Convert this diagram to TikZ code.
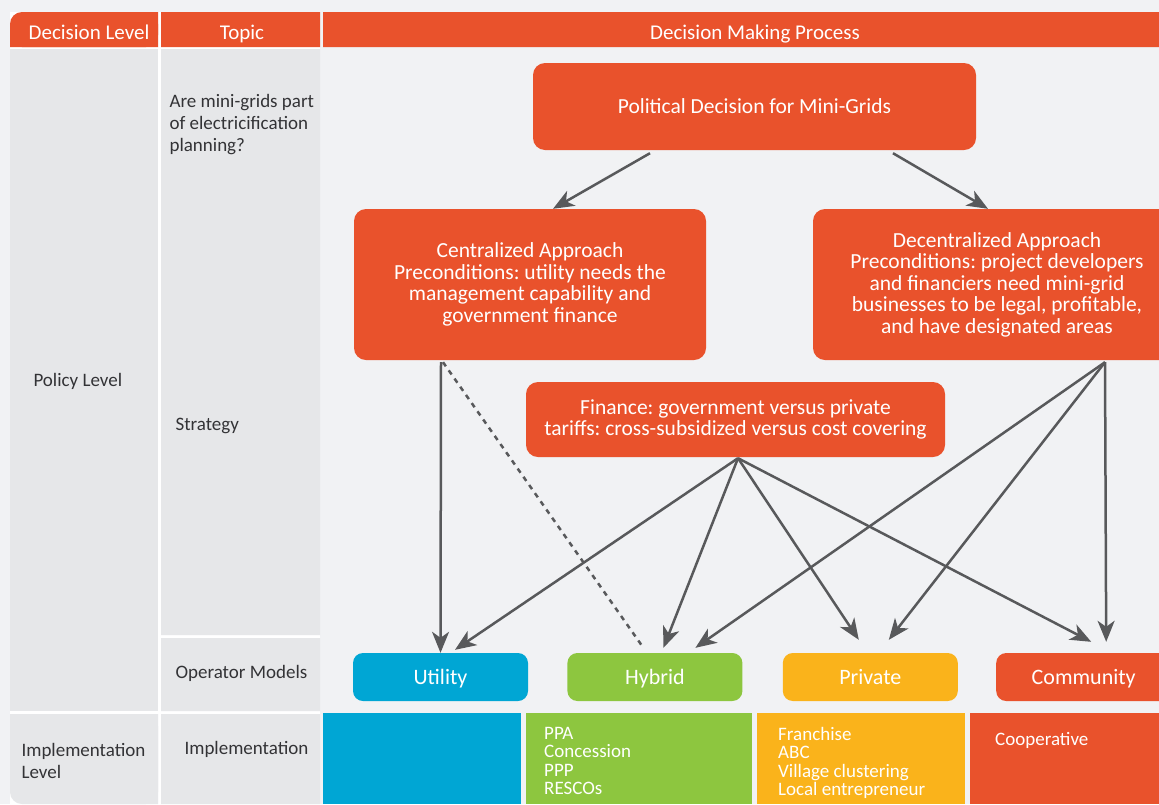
\documentclass[tikz,border=0pt]{standalone}
\usepackage{fontspec}
\setmainfont{Carlito}
\frenchspacing
\usetikzlibrary{arrows.meta,calc,positioning}
\definecolor{mgorange}{HTML}{E9522C}
\definecolor{mgbg}{HTML}{F1F2F4}
\definecolor{mgcell}{HTML}{E6E7E9}
\definecolor{mgtext}{HTML}{333336}
\definecolor{mgarrow}{HTML}{58595B}
\definecolor{mgblue}{HTML}{00A6D4}
\definecolor{mggreen}{HTML}{8DC63F}
\definecolor{mgyellow}{HTML}{FAB31B}

\begin{document}
\begin{tikzpicture}[x=1pt,y=-1pt,>={Stealth[length=21pt,width=17pt,inset=6pt]},
	box/.style={fill=mgorange,rounded corners=12pt,text=white,align=center,font=\fontsize{21.5}{21.5}\selectfont},
	model/.style={rounded corners=10pt,minimum width=175pt,minimum height=48pt,text height=19pt,text depth=4pt,text=white,font=\fontsize{22}{26}\selectfont},
	lefttext/.style={anchor=west,align=left,text=mgtext,font=\fontsize{19}{22}\selectfont},
	hdr/.style={anchor=base,text=white,font=\fontsize{21}{24}\selectfont},
	list/.style={anchor=north west,align=left,inner sep=0pt,text=white,font=\fontsize{19}{18.5}\selectfont},
	link/.style={->,mgarrow,line width=2.5pt}]
	\clip (0,0) rectangle (1159,804);
	\fill[mgbg] (0,0) rectangle (1159,804);
	\fill[white] (10,12) rectangle (320,804);

	\fill[mgorange,rounded corners=12pt] (10,12) rectangle (158,47);
	\fill[mgorange] (10,30) rectangle (158,47) (60,12) rectangle (158,47);
	\fill[mgorange] (161,12) rectangle (320,47) (323,12) rectangle (1159,47);
	\fill[mgcell] (10,49) rectangle (158,711);
	\fill[mgcell,rounded corners=12pt] (10,714) rectangle (158,804);
	\fill[mgcell] (10,714) rectangle (158,780) (60,714) rectangle (158,804);
	\fill[mgcell] (161,49) rectangle (320,635) (161,638) rectangle (320,711) (161,714) rectangle (320,804);

	\fill[mgblue] (323,713) rectangle (521,804);
	\fill[mggreen] (526,713) rectangle (752,804);
	\fill[mgyellow] (757,713) rectangle (965,804);
	\fill[mgorange] (970,713) rectangle (1159,804);

	\node[hdr] (hlevel) at (89,39.5) {Decision Level};
	\node[hdr] (htopic) at (242,39.5) {Topic};
	\node[hdr] (hprocess) at (755,39.5) {Decision Making Process};

	\node[lefttext] (question) at (166,125) {Are mini-grids part\\of electricification\\planning?};
	\node[lefttext] (strategy) at (172,426) {Strategy};
	\node[lefttext] (policy) at (30,381) {Policy Level};
	\node[lefttext] (opmodels) at (172,673) {Operator Models};
	\node[lefttext] (impl) at (181,749) {Implementation};
	\node[lefttext] (impllevel) at (18,761) {Implementation\\Level};

	\node[box,minimum width=443pt,minimum height=87pt] (pol) at (754.5,106.5) {Political Decision for Mini-Grids};
	\node[box,minimum width=352pt,minimum height=151pt] (cent) at (530,284.5) {Centralized Approach\\Preconditions: utility needs the\\management capability and\\government finance};
	\node[box,minimum width=368pt,minimum height=151pt] (dec) at (997,284.5) {Decentralized Approach\\Preconditions: project developers\\and financiers need mini-grid\\businesses to be legal, profitable,\\and have designated areas};
	\node[box,minimum width=419pt,minimum height=75pt] (fin) at (735.5,419.5) {Finance: government versus private\\tariffs: cross-subsidized versus cost covering};

	\node[model,fill=mgblue] (util) at (440.5,677) {Utility};
	\node[model,fill=mggreen,right=39pt of util] (hyb) {Hybrid};
	\node[model,fill=mgyellow,right=40pt of hyb] (priv) {Private};
	\node[model,fill=mgorange,right=38pt of priv] (comm) {Community};

	\node[list] (hyblist) at (544,727) {PPA\\Concession\\PPP\\RESCOs};
	\node[list] (privlist) at (778,727) {Franchise\\ABC\\Village clustering\\Local entrepreneur};
	\node[list] (commlist) at (995,732) {Cooperative};

	\coordinate (fs) at ($(fin.south)+(2.5,1)$);
	\coordinate (ds) at ($(dec.south)+(108,2)$);

	\path[link] ($(pol.south)+(-104.5,3)$) edge ($(cent.north)+(23,0)$)
	($(pol.south)+(138.5,3)$) edge ($(dec.north)+(-9,0)$)
	($(cent.south)+(-89,2)$) edge (util.north)
	($(cent.south)+(-87,2)$) edge[-,dash pattern=on 5pt off 5pt] ($(hyb.north)+(-11.5,-5)$)
	(fs) edge ($(util.north)+(14.5,-3)$)
	(fs) edge ($(hyb.north)+(8.5,-5)$)
	(fs) edge ($(priv.north)+(-11.5,-13)$)
	(fs) edge ($(comm.north)+(7.5,-11)$)
	(ds) edge ($(hyb.north)+(40.5,-5)$)
	(ds) edge ($(priv.north)+(18.5,-13)$)
	(ds) edge ($(comm.north)+(22.5,-11)$)
	;
\end{tikzpicture}
\end{document}
